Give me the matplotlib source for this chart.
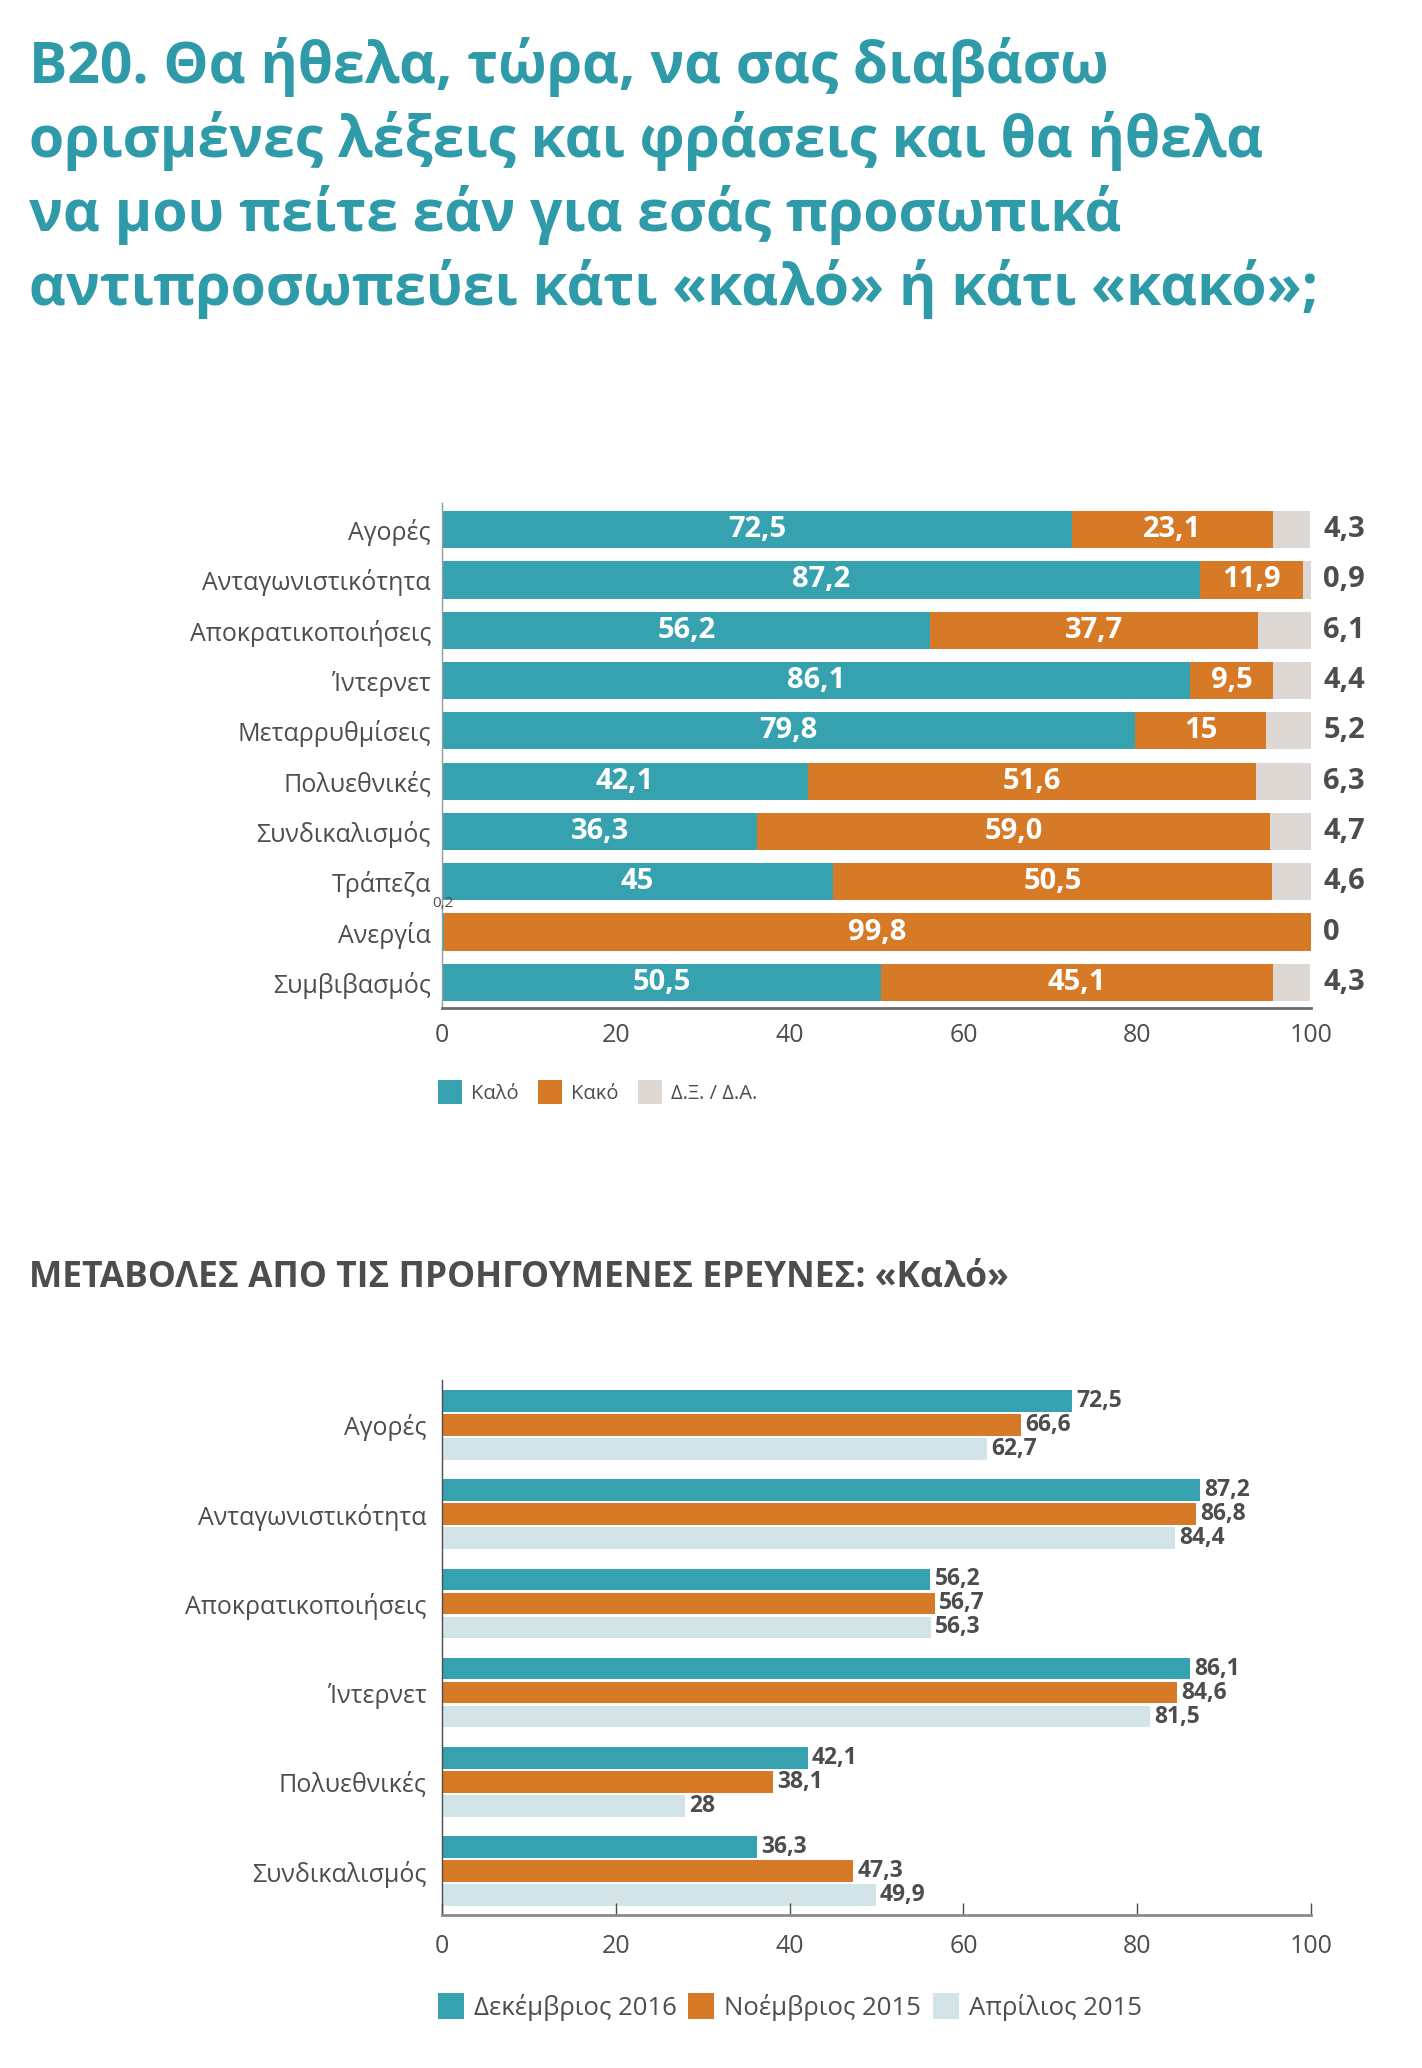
import matplotlib
matplotlib.use('agg')
import matplotlib.pyplot as plt
import numpy as np

plt.rcParams['font.family'] = ['Open Sans', 'DejaVu Sans']

# --- data -------------------------------------------------------------
cats1 = ['Αγορές', 'Ανταγωνιστικότητα', 'Αποκρατικοποιήσεις', 'Ίντερνετ',
         'Μεταρρυθμίσεις', 'Πολυεθνικές', 'Συνδικαλισμός', 'Τράπεζα',
         'Ανεργία', 'Συμβιβασμός']
kalo = [72.5, 87.2, 56.2, 86.1, 79.8, 42.1, 36.3, 45, 0.2, 50.5]
kako = [23.1, 11.9, 37.7, 9.5, 15, 51.6, 59.0, 50.5, 99.8, 45.1]
dxda = [4.3, 0.9, 6.1, 4.4, 5.2, 6.3, 4.7, 4.6, 0, 4.3]
kalo_lbl = ['72,5', '87,2', '56,2', '86,1', '79,8', '42,1', '36,3', '45', '0,2', '50,5']
kako_lbl = ['23,1', '11,9', '37,7', '9,5', '15', '51,6', '59,0', '50,5', '99,8', '45,1']
dxda_lbl = ['4,3', '0,9', '6,1', '4,4', '5,2', '6,3', '4,7', '4,6', '0', '4,3']
legend1 = ['Καλό', 'Κακό', 'Δ.Ξ. / Δ.Α.']

cats2 = ['Αγορές', 'Ανταγωνιστικότητα', 'Αποκρατικοποιήσεις', 'Ίντερνετ',
         'Πολυεθνικές', 'Συνδικαλισμός']
dec16 = [72.5, 87.2, 56.2, 86.1, 42.1, 36.3]
nov15 = [66.6, 86.8, 56.7, 84.6, 38.1, 47.3]
apr15 = [62.7, 84.4, 56.3, 81.5, 28, 49.9]
lbl_dec16 = ['72,5', '87,2', '56,2', '86,1', '42,1', '36,3']
lbl_nov15 = ['66,6', '86,8', '56,7', '84,6', '38,1', '47,3']
lbl_apr15 = ['62,7', '84,4', '56,3', '81,5', '28', '49,9']
legend2 = ['Δεκέμβριος 2016', 'Νοέμβριος 2015', 'Απρίλιος 2015']

title = ('B20. Θα ήθελα, τώρα, να σας διαβάσω\n'
         'ορισμένες λέξεις και φράσεις και θα ήθελα\n'
         'να μου πείτε εάν για εσάς προσωπικά\n'
         'αντιπροσωπεύει κάτι «καλό» ή κάτι «κακό»;')
subtitle = 'ΜΕΤΑΒΟΛΕΣ ΑΠΟ ΤΙΣ ΠΡΟΗΓΟΥΜΕΝΕΣ ΕΡΕΥΝΕΣ: «Καλό»'

TEAL = '#36a2af'
ORANGE = '#d67a28'
GREY = '#ddd8d4'
PALE = '#d2e4e7'
TXT = '#4d4d4f'
TITLE = '#2f9aa8'

W, H = 1422, 2068
fig = plt.figure(figsize=(W / 100, H / 100), dpi=100)
fig.patch.set_facecolor('white')


def px_axes(left, top, right, bottom):
    return fig.add_axes([left / W, 1 - bottom / H, (right - left) / W, (bottom - top) / H])


# --- title ------------------------------------------------------------
for k, line in enumerate(title.split('\n')):
    fig.text(29 / W, 1 - (83 + 74 * k) / H, line, fontsize=41, fontweight='bold',
             color=TITLE, ha='left', va='baseline')

# --- chart 1: stacked bars ---------------------------------------------
ax1 = px_axes(442, 503, 1311, 1008)
y = np.arange(len(cats1))
h = 0.74
ax1.barh(y, kalo, height=h, color=TEAL, label=legend1[0])
ax1.barh(y, kako, height=h, left=kalo, color=ORANGE, label=legend1[1])
ax1.barh(y, dxda, height=h, left=np.array(kalo) + np.array(kako), color=GREY, label=legend1[2])
ax1.set_xlim(0, 100)
ax1.set_ylim(9.51, -0.53)
ax1.set_yticks(y)
ax1.set_yticklabels(cats1, fontsize=18, color=TXT)
ax1.set_xticks([0, 20, 40, 60, 80, 100])
ax1.tick_params(axis='both', length=0, colors=TXT)
ax1.tick_params(axis='x', labelsize=18, pad=11)
ax1.tick_params(axis='y', pad=8)
for s in ['top', 'right']:
    ax1.spines[s].set_visible(False)
ax1.spines['left'].set_color('#9a9a9a')
ax1.spines['left'].set_linewidth(1)
ax1.spines['bottom'].set_color('#6b6b6b')
ax1.spines['bottom'].set_linewidth(2)

for i in range(len(cats1)):
    if kalo[i] >= 5:
        ax1.text(kalo[i] / 2, i, kalo_lbl[i], ha='center', va='center',
                 color='white', fontsize=21, fontweight='bold')
    else:
        ax1.text(kalo[i] / 2, i - h / 2 - 0.04, kalo_lbl[i], ha='center', va='bottom',
                 color=TXT, fontsize=11)
    ax1.text(kalo[i] + kako[i] / 2, i, kako_lbl[i], ha='center', va='center',
             color='white', fontsize=21, fontweight='bold')
    ax1.annotate(dxda_lbl[i], xy=(100, i), xytext=(9, 0), textcoords='offset points',
                 ha='left', va='center', color=TXT, fontsize=21, fontweight='bold',
                 annotation_clip=False)

leg1 = ax1.legend(loc='center left', bbox_to_anchor=(438 / W, 1 - 1092 / H),
                  bbox_transform=fig.transFigure, ncol=3, frameon=False,
                  fontsize=14.5, handlelength=1.2, handleheight=1.4,
                  handletextpad=0.45, columnspacing=0.95, borderpad=0, borderaxespad=0)
for t in leg1.get_texts():
    t.set_color(TXT)

# --- subtitle ---------------------------------------------------------
fig.text(29 / W, 1 - 1287 / H, subtitle, fontsize=25.5, fontweight='bold',
         color=TXT, ha='left', va='baseline')

# --- chart 2: grouped bars --------------------------------------------
ax2 = px_axes(442, 1380, 1311, 1915)
gp = 3.72
centers = np.arange(len(cats2)) * gp
bh = 0.9
series = [(dec16, lbl_dec16, TEAL, legend2[0], -1),
          (nov15, lbl_nov15, ORANGE, legend2[1], 0),
          (apr15, lbl_apr15, PALE, legend2[2], 1)]
for vals, lbls, col, name, off in series:
    ax2.barh(centers + off, vals, height=bh, color=col, label=name)
    for c, v, l in zip(centers + off, vals, lbls):
        ax2.annotate(l, xy=(v, c), xytext=(3, 0), textcoords='offset points',
                     ha='left', va='center', color=TXT, fontsize=16.5, fontweight='bold')
ax2.set_xlim(0, 100)
ax2.set_ylim(centers[-1] + 1 + 0.83, -1.87)
ax2.set_yticks(centers)
ax2.set_yticklabels(cats2, fontsize=18, color=TXT)
ax2.set_xticks([0, 20, 40, 60, 80, 100])
ax2.tick_params(axis='y', length=0, pad=11, colors=TXT)
ax2.tick_params(axis='x', direction='in', length=9, width=1, color='#4d4d4f',
                pad=14, labelsize=18, labelcolor=TXT)
for s in ['top', 'right']:
    ax2.spines[s].set_visible(False)
ax2.spines['left'].set_color('#4d4d4f')
ax2.spines['left'].set_linewidth(1)
ax2.spines['bottom'].set_color('#8a8a8a')
ax2.spines['bottom'].set_linewidth(2)

leg2 = ax2.legend(loc='center left', bbox_to_anchor=(438 / W, 1 - 2007 / H),
                  bbox_transform=fig.transFigure, ncol=3, frameon=False,
                  fontsize=18.5, handlelength=1.0, handleheight=1.2,
                  handletextpad=0.4, columnspacing=0.45, borderpad=0, borderaxespad=0)
for t in leg2.get_texts():
    t.set_color(TXT)

fig.savefig('out.png', dpi=100)
